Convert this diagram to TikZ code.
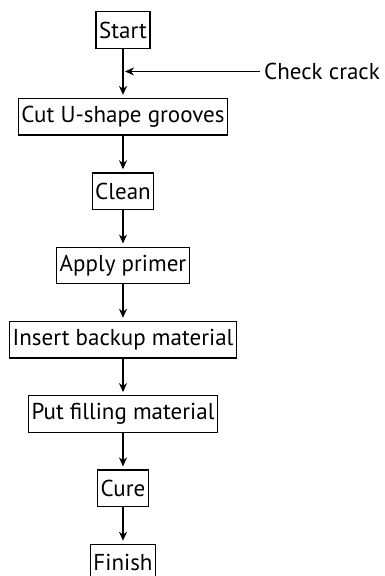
\documentclass[tikz,border=0pt]{standalone}
\usepackage{fontspec}
\setmainfont{PT Sans}
\usetikzlibrary{arrows.meta,positioning,calc}

\begin{document}
\begin{tikzpicture}[%
    >={Stealth[length=9pt,width=8pt]},x=1pt,y=1pt,
    every node/.style={font=\fontsize{23}{26}\selectfont}]
    \tikzstyle{stage}=[rectangle,draw=black,line width=1.3pt,fill=white,%
      inner xsep=3pt,inner ysep=0pt,minimum height=36.5pt,node distance=36.5pt]
    \tikzstyle{flow}=[->,line width=1.3pt,shorten >=3pt]
    \useasboundingbox (0,0) rectangle (385,-576);
    % All stages
    \node (start) [stage] at (123,-30)                     {Start};
    \node (grooves) [stage,below=49pt of start]            {Cut U-shape grooves};
    \node (clean) [stage,below=of grooves]                 {Clean};
    \node (primer) [stage,below=of clean]                  {Apply primer};
    \node (backup) [stage,below=of primer]                 {Insert backup material};
    \node (filling) [stage,below=of backup]                {Put filling material};
    \node (cure) [stage,below=of filling]                  {Cure};
    \node (finish) [stage,below=of cure]                   {Finish};
    % Side input
    \coordinate (join) at ($(start.south)!0.46!(grooves.north)$);
    \node (check) [anchor=west,inner sep=4pt] at ([xshift=137pt]join) {Check crack};
    % Edges
    \draw [flow] (start) -- (grooves);
    \draw [flow,shorten >=2pt] (check.west) -- (join);
    \draw [flow] (grooves) -- (clean);
    \draw [flow] (clean) -- (primer);
    \draw [flow] (primer) -- (backup);
    \draw [flow] (backup) -- (filling);
    \draw [flow] (filling) -- (cure);
    \draw [flow] (cure) -- (finish);
  \end{tikzpicture}
\end{document}
